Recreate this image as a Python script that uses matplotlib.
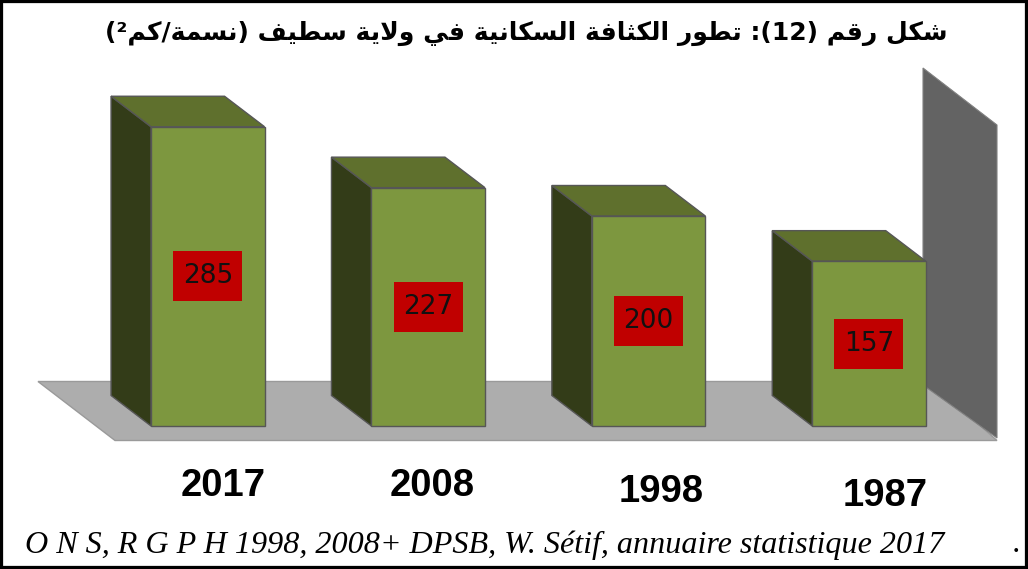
import matplotlib
matplotlib.use('Agg')
import matplotlib.pyplot as plt
from matplotlib.patches import Polygon

# data
years = ['2017', '2008', '1998', '1987']
density = [285, 227, 200, 157]
title_ar = 'شكل رقم (12): تطور الكثافة السكانية في ولاية سطيف (نسمة/كم²)'
source = 'O N S, R G P H 1998, 2008+ DPSB, W. Sétif, annuaire statistique 2017'

W, H = 1028, 569
PX_X = 220.4   # pixels per category
PX_Y = 1.05    # pixels per inhabitant/km2
BASE_X, BASE_Y = 207.8, 426
DEPTH_X, DEPTH_Y = 40 / PX_X, 30.5 / PX_Y

# presentation forms: isolated, final, initial, medial
FORMS = {
    'ا': (0xFE8D, 0xFE8E), 'ة': (0xFE93, 0xFE94), 'ر': (0xFEAD, 0xFEAE),
    'و': (0xFEED, 0xFEEE),
    'ت': (0xFE95, 0xFE96, 0xFE97, 0xFE98), 'ث': (0xFE99, 0xFE9A, 0xFE9B, 0xFE9C),
    'س': (0xFEB1, 0xFEB2, 0xFEB3, 0xFEB4), 'ش': (0xFEB5, 0xFEB6, 0xFEB7, 0xFEB8),
    'ط': (0xFEC1, 0xFEC2, 0xFEC3, 0xFEC4), 'ف': (0xFED1, 0xFED2, 0xFED3, 0xFED4),
    'ق': (0xFED5, 0xFED6, 0xFED7, 0xFED8), 'ك': (0xFED9, 0xFEDA, 0xFEDB, 0xFEDC),
    'ل': (0xFEDD, 0xFEDE, 0xFEDF, 0xFEE0), 'م': (0xFEE1, 0xFEE2, 0xFEE3, 0xFEE4),
    'ن': (0xFEE5, 0xFEE6, 0xFEE7, 0xFEE8), 'ي': (0xFEF1, 0xFEF2, 0xFEF3, 0xFEF4),
}


def shape_rtl(text):
    # matplotlib has no bidi or shaping, so join the letters and reverse by hand
    out = []
    i = 0
    while i < len(text):
        c = text[i]
        if c not in FORMS:
            out.append(c)
            i += 1
            continue
        prev = text[i - 1] if i else ''
        joined = prev in FORMS and len(FORMS[prev]) == 4
        if c == 'ل' and text[i + 1:i + 2] == 'ا':
            out.append(chr(0xFEFC if joined else 0xFEFB))
            i += 2
            continue
        nxt = text[i + 1] if i + 1 < len(text) else ''
        forms = FORMS[c]
        if len(forms) == 4 and nxt in FORMS:
            out.append(chr(forms[3] if joined else forms[2]))
        else:
            out.append(chr(forms[1] if joined else forms[0]))
        i += 1
    # reverse, keep numbers reading left to right, mirror the brackets
    vis = []
    num = ''
    for c in reversed(out):
        if c.isdigit() and c != '²':
            num = c + num
            continue
        if num:
            vis.append(num)
            num = ''
        vis.append({'(': ')', ')': '('}.get(c, c))
    return ''.join(vis)


fig = plt.figure(figsize=(W / 100, H / 100), dpi=100, facecolor='white')

# backdrop in pixel coordinates: floor, wall, frame
bg = fig.add_axes([0, 0, 1, 1])
bg.set_xlim(0, W)
bg.set_ylim(H, 0)
bg.set_xticks([])
bg.set_yticks([])
for s in bg.spines.values():
    s.set_linewidth(4.5)
    s.set_color('black')
bg.add_patch(Polygon([(38, 381.5), (930, 381.5), (997, 440.5), (115, 440.5)],
                     fc='#ADADAD', ec='#9A9A9A', lw=1))
bg.add_patch(Polygon([(923, 68), (997, 125), (997, 438), (923, 385)],
                     fc='#636363', ec='#808080', lw=0.8))

# chart axes, zero sits on the front base of the bars
ax = fig.add_axes([0, 0, 1, 1])
ax.patch.set_alpha(0)
ax.axis('off')
ax.set_xlim(-BASE_X / PX_X, (W - BASE_X) / PX_X)
ax.set_ylim(-(H - BASE_Y) / PX_Y, BASE_Y / PX_Y)

xs = list(range(len(density)))
bar_w = 113.5 / PX_X
edge = '#565656'
bars = ax.bar(xs, density, width=bar_w, color='#7D973F', edgecolor=edge, lw=1, zorder=3)
for b, v in zip(bars, density):
    x0, x1 = b.get_x(), b.get_x() + b.get_width()
    side = [(x0, 0), (x0, v), (x0 - DEPTH_X, v + DEPTH_Y), (x0 - DEPTH_X, DEPTH_Y)]
    top = [(x0, v), (x1, v), (x1 - DEPTH_X, v + DEPTH_Y), (x0 - DEPTH_X, v + DEPTH_Y)]
    ax.add_patch(Polygon(side, fc='#333C18', ec=edge, lw=1, zorder=2))
    ax.add_patch(Polygon(top, fc='#5F702D', ec=edge, lw=1, zorder=2))

box_w, box_h = 69 / PX_X, 50 / PX_Y
for x, v in zip(xs, density):
    ax.bar(x, box_h, bottom=v / 2 - box_h / 2, width=box_w, color='#C00000', zorder=4)
    ax.text(x, v / 2, str(v), ha='center', va='center', color='#111111',
            fontsize=19, family='DejaVu Sans', zorder=5)

# year labels step down to the right in the original
year_xy = [(223, 486), (431.7, 486), (660.7, 491.7), (884.7, 496)]
for lab, (px, py) in zip(years, year_xy):
    bg.text(px, py, lab, ha='center', va='center', fontsize=27.5,
            fontweight='bold', family='Liberation Sans', color='black')

bg.text(526, 33, shape_rtl(title_ar), ha='center', va='center', fontsize=18,
        fontweight='bold', family='DejaVu Sans', color='black')
bg.text(25, 552.5, source, ha='left', va='baseline', fontsize=23.1,
        style='italic', family='Liberation Serif', color='black')
bg.text(1017, 552.5, '.', ha='center', va='baseline', fontsize=23.1,
        style='italic', family='Liberation Serif', color='black')

fig.savefig('out.png', dpi=100)
